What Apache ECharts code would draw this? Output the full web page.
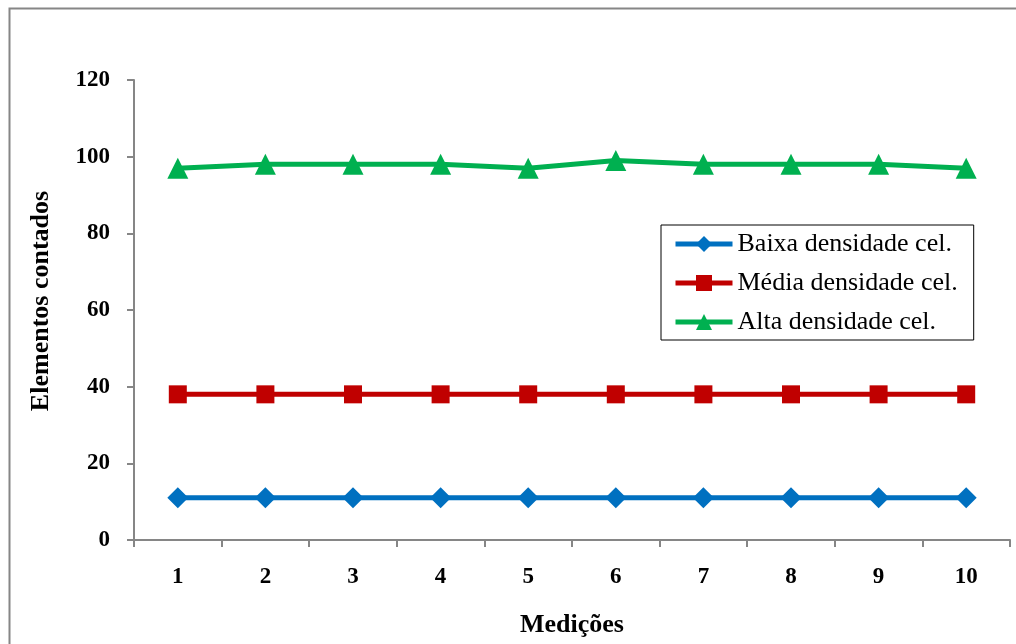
<!DOCTYPE html>
<html>
<head>
<meta charset="utf-8">
<script src="https://cdn.jsdelivr.net/npm/echarts@6/dist/echarts.min.js"></script>
<style>html,body{margin:0;padding:0;background:#fff;}#c{width:1016px;height:644px;}</style>
</head>
<body>
<div id="c"></div>
<script>
const categories = ['1','2','3','4','5','6','7','8','9','10'];
const baixa = [11,11,11,11,11,11,11,11,11,11];
const media = [38,38,38,38,38,38,38,38,38,38];
const alta = [97,98,98,98,97,99,98,98,98,97];
const seriesNames = ['Baixa densidade cel.','Média densidade cel.','Alta densidade cel.'];
const FONT = '"Liberation Serif","Times New Roman",serif';
const chart = echarts.init(document.getElementById('c'));
chart.setOption({
  animation:false,
  backgroundColor:'#fff',
  graphic:[{type:'rect',left:7,top:6,shape:{x:0,y:0,width:1030,height:660},style:{fill:null,stroke:'#868686',lineWidth:2},silent:true}],
  grid:{left:134,right:6,top:80,bottom:104,containLabel:false},
  legend:{
    orient:'vertical',left:661,top:225,
    padding:[6,16,5,12],
    borderColor:'#000',borderWidth:1,backgroundColor:'#fff',
    itemWidth:57,itemHeight:20,itemGap:13,
    lineStyle:{width:5},
    textStyle:{fontFamily:FONT,fontSize:26,lineHeight:26,color:'#000'},
    data:seriesNames
  },
  xAxis:{
    type:'category',data:categories,boundaryGap:true,
    name:'Medições',nameLocation:'middle',nameGap:72,
    nameTextStyle:{fontFamily:FONT,fontSize:26,fontWeight:'bold',color:'#000'},
    axisLine:{lineStyle:{color:'#868686',width:2}},
    axisTick:{show:true,length:7,alignWithLabel:false,lineStyle:{color:'#868686',width:2}},
    axisLabel:{fontFamily:FONT,fontSize:23,fontWeight:'bold',color:'#000',margin:26}
  },
  yAxis:{
    type:'value',min:0,max:120,interval:20,
    name:'Elementos contados',nameLocation:'middle',nameGap:80,
    nameTextStyle:{fontFamily:FONT,fontSize:26,fontWeight:'bold',color:'#000',padding:[0,0,0,18]},
    axisLine:{show:true,lineStyle:{color:'#868686',width:2}},
    axisTick:{show:true,length:7,lineStyle:{color:'#868686',width:2}},
    splitLine:{show:false},
    axisLabel:{fontFamily:FONT,fontSize:23,fontWeight:'bold',color:'#000',margin:24}
  },
  series:[
    {name:seriesNames[0],type:'line',data:baixa,symbol:'diamond',symbolSize:21,
     lineStyle:{color:'#0070C0',width:5},itemStyle:{color:'#0070C0'}},
    {name:seriesNames[1],type:'line',data:media,symbol:'rect',symbolSize:18,
     lineStyle:{color:'#C00000',width:5},itemStyle:{color:'#C00000'}},
    {name:seriesNames[2],type:'line',data:alta,symbol:'triangle',symbolSize:21,
     lineStyle:{color:'#00B050',width:5},itemStyle:{color:'#00B050'}}
  ]
});
</script>
</body>
</html>
